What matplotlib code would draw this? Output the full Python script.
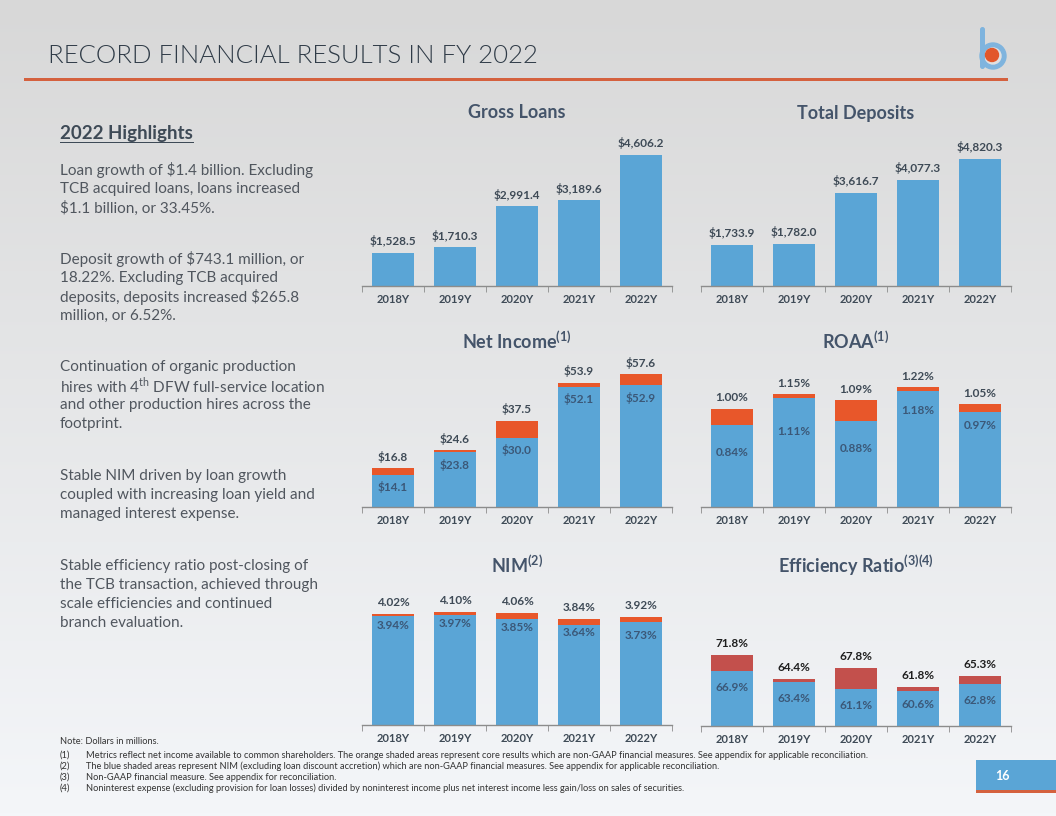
import numpy as np
import matplotlib
matplotlib.use("Agg")
import matplotlib.pyplot as plt
from matplotlib.patches import Rectangle, Circle, FancyBboxPatch
from matplotlib.colors import LinearSegmentedColormap

plt.rcParams['font.family'] = ['Lato', 'DejaVu Sans']
plt.rcParams['mathtext.fontset'] = 'custom'
plt.rcParams['mathtext.rm'] = 'Lato'
plt.rcParams['mathtext.bf'] = 'Lato:bold'

# ---------------- data ----------------
years = ['2018Y', '2019Y', '2020Y', '2021Y', '2022Y']

gross_loans = [1528.5, 1710.3, 2991.4, 3189.6, 4606.2]
total_deposits = [1733.9, 1782.0, 3616.7, 4077.3, 4820.3]

net_income_gaap = [14.1, 23.8, 30.0, 52.1, 52.9]
net_income_core = [16.8, 24.6, 37.5, 53.9, 57.6]

roaa_gaap = [0.84, 1.11, 0.88, 1.18, 0.97]
roaa_core = [1.00, 1.15, 1.09, 1.22, 1.05]

nim_excl = [3.94, 3.97, 3.85, 3.64, 3.73]
nim_total = [4.02, 4.10, 4.06, 3.84, 3.92]

eff_core = [66.9, 63.4, 61.1, 60.6, 62.8]
eff_gaap = [71.8, 64.4, 67.8, 61.8, 65.3]

highlights = [
    ["Loan growth of $1.4 billion. Excluding",
     "TCB acquired loans, loans increased",
     "$1.1 billion, or 33.45%."],
    ["Deposit growth of $743.1 million, or",
     "18.22%. Excluding TCB acquired",
     "deposits, deposits increased $265.8",
     "million, or 6.52%."],
    ["Continuation of organic production",
     "hires with 4$^{\\mathrm{th}}$ DFW full-service location",
     "and other production hires across the",
     "footprint."],
    ["Stable NIM driven by loan growth",
     "coupled with increasing loan yield and",
     "managed interest expense."],
    ["Stable efficiency ratio post-closing of",
     "the TCB transaction, achieved through",
     "scale efficiencies and continued",
     "branch evaluation."],
]

footnotes = [
    ("(1)", "Metrics reflect net income available to common shareholders. The orange shaded areas represent core results which are non-GAAP financial measures. See appendix for applicable reconciliation."),
    ("(2)", "The blue shaded areas represent NIM (excluding loan discount accretion) which are non-GAAP financial measures. See appendix for applicable reconciliation."),
    ("(3)", "Non-GAAP financial measure. See appendix for reconciliation."),
    ("(4)", "Noninterest expense (excluding provision for loan losses) divided by noninterest income plus net interest income less gain/loss on sales of securities."),
]

BLUE = '#5aa5d6'
ORANGE = '#e8572a'
RED = '#c3504c'
DARK = '#3e4a56'
INNER = '#3b5878'

W, H = 1056, 816
fig = plt.figure(figsize=(W / 100, H / 100), dpi=100)

# background gradient
bg = fig.add_axes([0, 0, 1, 1], zorder=-10)
grad = np.linspace(0, 1, 256).reshape(-1, 1)
cmap = LinearSegmentedColormap.from_list('bg', ['#d8d8d8', '#f4f6f9'])
bg.imshow(grad, aspect='auto', cmap=cmap, extent=[0, 1, 0, 1], origin='upper')
bg.set_axis_off()


def fx(px):
    return px / W


def fy(py):
    return 1 - py / H


# header
fig.text(fx(48), fy(56), 'RECORD FINANCIAL RESULTS IN FY 2022', fontsize=18.5,
         color='#2f3b47', fontweight=300, va='center', ha='left')
fig.add_artist(Rectangle((fx(24), fy(81)), fx(1008) - fx(24), 3 / H,
                         transform=fig.transFigure, color='#d4613e', lw=0))

# logo
lg = fig.add_axes([fx(970), fy(75), fx(40), 52 / H])
lg.set_xlim(0, 40)
lg.set_ylim(0, 52)
lg.set_aspect('equal')
lg.set_axis_off()
lg.add_patch(Circle((23, 19), 13, color='#7fb4de'))
lg.add_patch(Circle((23, 19), 8, color='#e1e1e1'))
lg.add_patch(FancyBboxPatch((10, 6), 5, 42, boxstyle='round,pad=0,rounding_size=2.5',
                            color='#7fb4de', lw=0))
lg.add_patch(Circle((22, 20), 6.5, color='#e2572b'))

# left highlights
fig.text(fx(60), fy(133), '2022 Highlights', fontsize=13.5, fontweight='bold',
         color='#3e4a56', va='center')
fig.add_artist(Rectangle((fx(60), fy(143)), fx(194) - fx(60), 1.5 / H,
                         transform=fig.transFigure, color='#3e4a56', lw=0))
para_y = [170, 259, 367, 476, 566]
for y0, lines in zip(para_y, highlights):
    for i, line in enumerate(lines):
        fig.text(fx(60), fy(y0 + i * 19), line, fontsize=11, color='#50565e',
                 va='center', ha='left')


def bar_chart(rect, title, ylim, base, top=None, top_color=ORANGE,
              top_labels=None, inner_labels=None, inner_off=12, top_label_color=DARK):
    x0, x1, ybase, ytop = rect
    ax = fig.add_axes([fx(x0), fy(ybase), fx(x1) - fx(x0), (ybase - ytop) / H])
    ax.set_facecolor('none')
    x = np.arange(len(years))
    ax.bar(x, np.array(base) - ylim[0], bottom=ylim[0], width=0.68, color=BLUE, zorder=2)
    if top is not None:
        ax.bar(x, np.array(top) - np.array(base), bottom=base, width=0.68,
               color=top_color, zorder=2)
    ax.set_xlim(-0.5, len(years) - 0.5)
    ax.set_ylim(*ylim)
    for s in ['top', 'right', 'left']:
        ax.spines[s].set_visible(False)
    ax.spines['bottom'].set_color('#8c8c8c')
    ax.spines['bottom'].set_linewidth(1)
    ax.set_yticks([])
    ax.set_xticks(x)
    ax.set_xticklabels(years, fontsize=8, fontweight='bold', color=DARK)
    ax.tick_params(axis='x', which='major', length=0, pad=6)
    ax.set_xticks(np.arange(-0.5, len(years)), minor=True)
    ax.tick_params(axis='x', which='minor', length=4, color='#8c8c8c', direction='out')
    hi = top if top is not None else base
    for xi, v, lab in zip(x, hi, top_labels):
        ax.annotate(lab, (xi, v), xytext=(0, 4), textcoords='offset points',
                    ha='center', va='bottom', fontsize=8.5, fontweight='bold',
                    color=top_label_color)
    if inner_labels is not None:
        offs = inner_off if np.iterable(inner_off) else [inner_off] * len(years)
        for xi, v, lab, o in zip(x, base, inner_labels, offs):
            ax.annotate(lab, (xi, v), xytext=(0, -o), textcoords='offset points',
                        ha='center', va='center', fontsize=8.5, fontweight='bold',
                        color=INNER)
    fig.text(fx((x0 + x1) / 2), fy(title[1]), title[0],
             fontsize=13, fontweight='bold', color='#44546a', ha='center', va='center')
    return ax


bar_chart((362, 672, 286, 140), ('Gross Loans', 113), (492, 5077), gross_loans,
          top_labels=['$' + f'{v:,.1f}' for v in gross_loans])
bar_chart((701, 1011, 286, 140), ('Total Deposits', 113), (263, 5503), total_deposits,
          top_labels=['$' + f'{v:,.1f}' for v in total_deposits])
bar_chart((362, 672, 507, 360), ('Net Income$^{\\mathbf{(1)}}$', 341), (0, 63.8),
          net_income_gaap, net_income_core,
          top_labels=[f'${v:.1f}' for v in net_income_core],
          inner_labels=[f'${v:.1f}' for v in net_income_gaap], inner_off=9)
bar_chart((701, 1011, 507, 360), ('ROAA$^{\\mathbf{(1)}}$', 341), (0, 1.5),
          roaa_gaap, roaa_core,
          top_labels=[f'{v:.2f}%' for v in roaa_core],
          inner_labels=[f'{v:.2f}%' for v in roaa_gaap], inner_off=[20, 24, 20, 14, 10])
bar_chart((362, 672, 725, 590), ('NIM$^{\\mathbf{(2)}}$', 565), (0, 4.89),
          nim_excl, nim_total,
          top_labels=[f'{v:.2f}%' for v in nim_total],
          inner_labels=[f'{v:.2f}%' for v in nim_excl], inner_off=[7, 6, 6, 6, 10])
bar_chart((701, 1011, 726, 590), ('Efficiency Ratio$^{\\mathbf{(3)(4)}}$', 565), (49.6, 92.1),
          eff_core, eff_gaap, top_color=RED,
          top_labels=[f'{v:.1f}%' for v in eff_gaap],
          inner_labels=[f'{v:.1f}%' for v in eff_core], inner_off=[12, 12, 12, 10, 12],
          top_label_color='#1e1e1e')

# footnotes
fig.text(fx(60), fy(742), 'Note: Dollars in millions.', fontsize=6.7, color='#333333', va='center')
for i, (num, txt) in enumerate(footnotes):
    yy = 755 + i * 11
    fig.text(fx(60), fy(yy), num, fontsize=6.7, color='#333333', va='center')
    fig.text(fx(86), fy(yy), txt, fontsize=6.7, color='#333333', va='center')

# page number
fig.add_artist(Rectangle((fx(976), fy(790)), fx(80), 30 / H,
                         transform=fig.transFigure, color='#5aa5d6', lw=0))
fig.add_artist(Rectangle((fx(976), fy(793)), fx(80), 3 / H,
                         transform=fig.transFigure, color='#d4613e', lw=0))
fig.text(fx(1002), fy(776), '16', fontsize=9, fontweight='bold', color='white',
         ha='center', va='center')

fig.savefig('out.png', dpi=100)
